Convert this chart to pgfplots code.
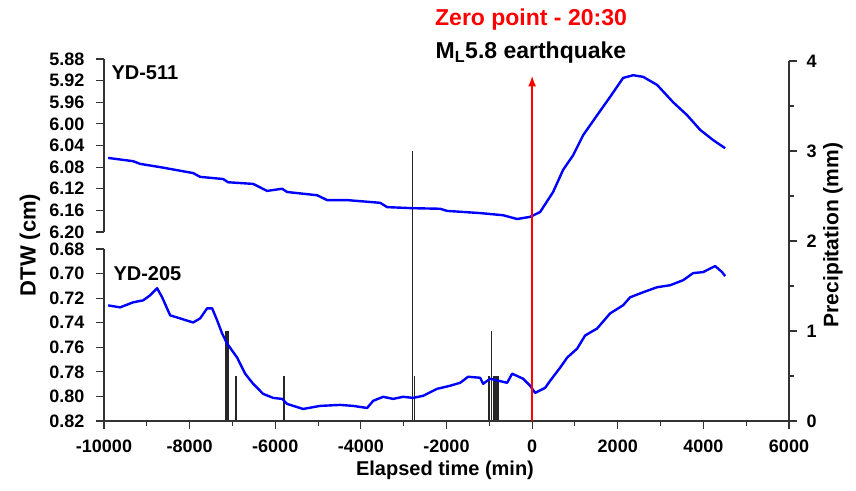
\documentclass[border=0pt]{standalone}
\usepackage{fontspec}
\setmainfont{Liberation Sans}
\usepackage{pgfplots}
\pgfplotsset{compat=1.18}
\usetikzlibrary{arrows.meta}

\pgfplotstableread{
t v
-9903 6.063
-9320 6.069
-9156 6.074
-8689 6.080
-7918 6.091
-7755 6.098
-7217 6.102
-7101 6.108
-6517 6.111
-6190 6.124
-5839 6.120
-5723 6.126
-5022 6.132
-4788 6.141
-4321 6.141
-3550 6.146
-3387 6.154
-2780 6.156
-2149 6.157
-1985 6.161
-1215 6.165
-677 6.169
-350 6.176
-47 6.172
187 6.163
490 6.126
724 6.085
958 6.058
1191 6.021
1518 5.984
1822 5.950
2125 5.915
2359 5.910
2593 5.913
2920 5.928
3294 5.960
3621 5.984
3924 6.011
4228 6.030
4508 6.045
}\ydfivehundred

\pgfplotstableread{
t v
-9903 0.7259
-9623 0.7275
-9320 0.7234
-9086 0.7218
-8923 0.7177
-8759 0.7119
-8642 0.7193
-8455 0.7340
-8222 0.7365
-7918 0.7398
-7755 0.7365
-7591 0.7283
-7474 0.7283
-7357 0.7381
-7241 0.7488
-7124 0.7570
-6890 0.7684
-6703 0.7815
-6517 0.7897
-6283 0.7979
-6050 0.8012
-5839 0.8020
-5723 0.8061
-5349 0.8102
-4952 0.8077
-4485 0.8069
-4181 0.8077
-3854 0.8094
-3714 0.8036
-3480 0.8003
-3247 0.8020
-3013 0.8003
-2780 0.8012
-2546 0.7995
-2219 0.7938
-1915 0.7913
-1682 0.7889
-1495 0.7840
-1215 0.7848
-1145 0.7897
-981 0.7856
-584 0.7889
-467 0.7815
-210 0.7856
-47 0.7913
70 0.7971
304 0.7930
420 0.7873
654 0.7766
818 0.7684
1051 0.7611
1238 0.7504
1518 0.7447
1822 0.7324
2125 0.7258
2289 0.7193
2593 0.7152
2920 0.7111
3223 0.7095
3527 0.7054
3761 0.6996
3994 0.6988
4274 0.6939
4438 0.6988
4508 0.7021
}\ydtwohundred

\pgfplotstableread{
t p
-7170 1
-7130 1
-7100 1
-6920 0.5
-5795 0.5
-2795 3
-2740 0.5
-1005 0.5
-942 1
-888 0.5
-841 0.5
-794 0.5
}\precip

\begin{document}
\begin{tikzpicture}
\useasboundingbox (0,0) rectangle (856pt,490pt);
\pgfplotsset{
  common/.style={
    scale only axis, width=685pt, xmin=-10000, xmax=6000,
    anchor=south west,
    /pgf/number format/assume math mode=true,
    tick align=outside, major tick length=8pt, minor tick length=4.5pt,
    every tick label/.append style={font=\bfseries\fontsize{18}{18}\selectfont},
    axis line style={black!80, line width=1.1pt},
    every tick/.append style={black!80, line width=1.1pt},
    clip=false,
  },
}
% precipitation axis (right)
\begin{axis}[common, at={(104pt,69pt)}, height=360pt,
  ymin=0, ymax=4, axis x line=none, axis y line*=right,
  ytick={0,1,2,3,4}, minor y tick num=1,
  yticklabel style={xshift=6pt}]
  \addplot[ycomb, black!85, line width=1.3pt, no marks] table[x=t,y=p] {\precip};
\end{axis}
% top DTW axis YD-511
\begin{axis}[common, at={(104pt,258pt)}, height=173pt,
  ymin=5.88, ymax=6.20, y dir=reverse, axis x line=none, axis y line*=left,
  ytick={5.88,5.92,5.96,6.00,6.04,6.08,6.12,6.16,6.20},
  yticklabel style={xshift=-8pt, /pgf/number format/fixed, /pgf/number format/fixed zerofill, /pgf/number format/precision=2}]
  \addplot[blue, line width=2.4pt, no marks, line join=round] table[x=t,y=v] {\ydfivehundred};
\end{axis}
% bottom DTW axis YD-205 with x axis
\begin{axis}[common, at={(104pt,69pt)}, height=172pt,
  ymin=0.68, ymax=0.82, y dir=reverse, axis x line*=bottom, axis y line*=left,
  ytick={0.68,0.70,0.72,0.74,0.76,0.78,0.80,0.82},
  yticklabel style={xshift=-8pt, /pgf/number format/fixed, /pgf/number format/fixed zerofill, /pgf/number format/precision=2},
  xtick={-10000,-8000,-6000,-4000,-2000,0,2000,4000,6000}, minor x tick num=1,
  scaled x ticks=false,
  xticklabel style={yshift=-7pt, /pgf/number format/set thousands separator={}}]
  \addplot[blue, line width=2.4pt, no marks, line join=round] table[x=t,y=v] {\ydtwohundred};
\end{axis}
% overlay for zero-point arrow
\begin{axis}[common, at={(104pt,69pt)}, height=360pt, ymin=0, ymax=4, hide axis]
  \addplot[red, line width=2pt, -{Latex[length=11pt,width=8pt]}] coordinates {(0,0) (0,3.84)};
\end{axis}
% texts
\node[font=\bfseries\fontsize{23}{23}\selectfont, text=red] at (531pt,470pt) {Zero point - 20:30};
\node[font=\bfseries\fontsize{23}{23}\selectfont] at (531pt,437pt) {M\textsubscript{L}5.8 earthquake};
\node[font=\bfseries\fontsize{20}{20}\selectfont, anchor=west] at (108pt,417pt) {YD-511};
\node[font=\bfseries\fontsize{20}{20}\selectfont, anchor=west] at (110pt,216pt) {YD-205};
\node[font=\bfseries\fontsize{22}{22}\selectfont, rotate=90] at (30pt,245pt) {DTW (cm)};
\node[font=\bfseries\fontsize{21}{21}\selectfont, rotate=90] at (833pt,255pt) {Precipitation (mm)};
\node[font=\bfseries\fontsize{20}{20}\selectfont] at (445pt,20pt) {Elapsed time (min)};
\end{tikzpicture}
\end{document}
